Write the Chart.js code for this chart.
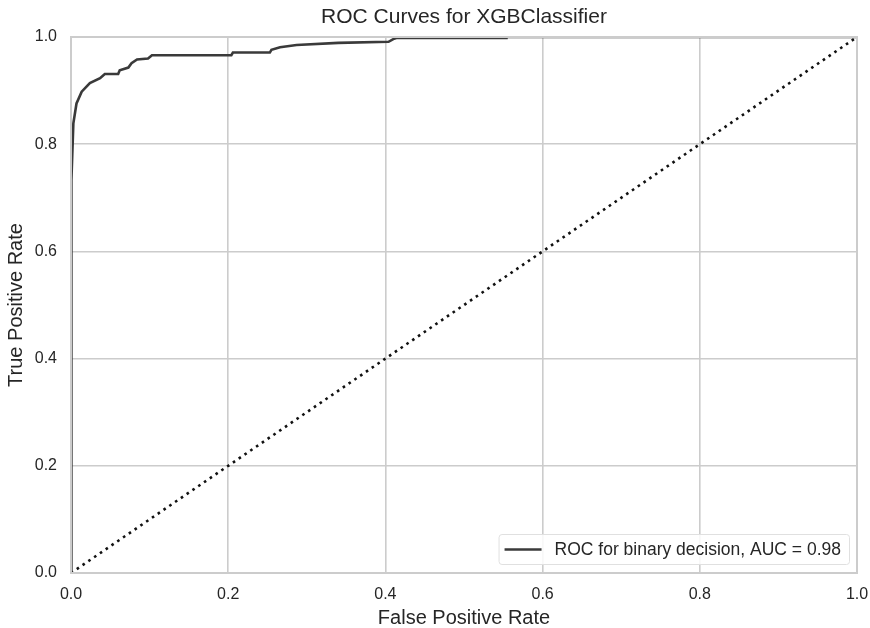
<!DOCTYPE html>
<html>
<head>
<meta charset="utf-8">
<script src="https://cdn.jsdelivr.net/npm/chart.js@4"></script>
<style>
  html, body { margin: 0; padding: 0; background: #fff; }
  #wrap { width: 870px; height: 628px; }
</style>
</head>
<body>
<div id="wrap"><canvas id="roc" width="870" height="628"></canvas></div>
<script>
// --- datos ---
const fpr = [0, 0, 0.001, 0.003, 0.007, 0.0136, 0.024, 0.037, 0.043, 0.060, 0.062, 0.073, 0.077, 0.084, 0.098, 0.103,
  0.204, 0.206, 0.253, 0.255, 0.266, 0.287, 0.340, 0.404, 0.410, 0.414, 0.554, 0.554, 1.0];
const tpr = [0, 0.70, 0.733, 0.839, 0.876, 0.898, 0.914, 0.923, 0.931, 0.931, 0.938, 0.943, 0.951, 0.958, 0.960, 0.966,
  0.966, 0.971, 0.971, 0.976, 0.981, 0.985, 0.989, 0.991, 0.996, 0.998, 0.998, 1.0, 1.0];
const diagX = [0, 1];
const diagY = [0, 1];
const tickValues = [0, 0.2, 0.4, 0.6, 0.8, 1.0];

const titleText = 'ROC Curves for XGBClassifier';
const xLabel = 'False Positive Rate';
const yLabel = 'True Positive Rate';
const curveLabel = 'ROC for binary decision, AUC = 0.98';

const FONT = "'Liberation Sans', Arial, sans-serif";
const TXT = '#262626';
const GRID = '#cccccc';

// título centrado sobre el área de trazado (no sobre el lienzo)
const titlePlugin = {
  id: 'axTitle',
  afterDraw(chart) {
    const { ctx, chartArea: a } = chart;
    ctx.save();
    ctx.font = '21px ' + FONT;
    ctx.fillStyle = TXT;
    ctx.textAlign = 'center';
    ctx.textBaseline = 'middle';
    ctx.fillText(titleText, (a.left + a.right) / 2, 17);
    ctx.restore();
  }
};

// marco del área de trazado encima de las series (como los spines de matplotlib)
const framePlugin = {
  id: 'frame',
  afterDatasetsDraw(chart) {
    const { ctx, chartArea: a } = chart;
    ctx.save();
    ctx.strokeStyle = GRID;
    ctx.lineWidth = 2;
    ctx.strokeRect(a.left, a.top, a.right - a.left, a.bottom - a.top);
    ctx.restore();
  }
};

// leyenda dentro del área, abajo a la derecha
const legendBox = {
  id: 'legendBox',
  afterDraw(chart) {
    const { ctx, chartArea: a } = chart;
    const ds = chart.data.datasets[0];
    ctx.save();
    ctx.font = '17.5px ' + FONT;
    const tw = ctx.measureText(ds.label).width;
    const h = 30, w = 56 + tw + 8;
    const x = a.right - 8 - w, y = a.bottom - 9 - h;
    ctx.fillStyle = 'rgba(255,255,255,0.85)';
    ctx.strokeStyle = '#e0e0e0';
    ctx.lineWidth = 1;
    ctx.beginPath();
    ctx.roundRect(x + 0.5, y + 0.5, w, h, 3);
    ctx.fill(); ctx.stroke();
    const cy = y + h / 2 + 0.5;
    ctx.strokeStyle = ds.borderColor;
    ctx.lineWidth = ds.borderWidth;
    ctx.beginPath();
    ctx.moveTo(x + 6, cy); ctx.lineTo(x + 43, cy);
    ctx.stroke();
    ctx.fillStyle = TXT;
    ctx.textBaseline = 'middle';
    ctx.fillText(ds.label, x + 56, cy + 1);
    ctx.restore();
  }
};

const axisCommon = {
  type: 'linear',
  min: 0, max: 1,
  grid: { color: GRID, lineWidth: 1.6, drawTicks: false },
  border: { display: false },
  afterBuildTicks: s => { s.ticks = tickValues.map(v => ({ value: v })); },
};

new Chart(document.getElementById('roc'), {
  type: 'scatter',
  data: {
    datasets: [
      {
        label: curveLabel,
        data: fpr.map((x, i) => ({ x: x, y: tpr[i] })),
        showLine: true, borderColor: '#3a3a3a', borderWidth: 2.6,
        pointRadius: 0, clip: 0, order: 1
      },
      {
        label: 'diagonal',
        data: diagX.map((x, i) => ({ x: x, y: diagY[i] })),
        showLine: true, borderColor: '#111111', borderWidth: 2.6,
        borderDash: [2.6, 4.4], pointRadius: 0, clip: 0, order: 2
      }
    ]
  },
  options: {
    responsive: false,
    animation: false,
    layout: { padding: { top: 37, right: 13, bottom: 0, left: 0 } },
    plugins: {
      legend: { display: false },
      tooltip: { enabled: false },
      title: { display: false }
    },
    scales: {
      x: {
        ...axisCommon,
        position: 'bottom',
        ticks: { color: TXT, font: { family: FONT, size: 16 }, padding: 12, maxRotation: 0,
          callback: v => Number(v).toFixed(1) },
        title: { display: true, text: xLabel, color: TXT,
          font: { family: FONT, size: 20, lineHeight: 1 }, padding: { top: 0, bottom: 0 } },
        afterFit: s => { s.height = 55; s.paddingLeft = 0; s.paddingRight = 0; }
      },
      y: {
        ...axisCommon,
        position: 'left',
        ticks: { color: TXT, font: { family: FONT, size: 16 }, padding: 14,
          callback: v => Number(v).toFixed(1) },
        title: { display: true, text: yLabel, color: TXT,
          font: { family: FONT, size: 20, lineHeight: 1 }, padding: { top: 6, bottom: 0 } },
        afterFit: s => { s.width = 71; s.paddingTop = 0; s.paddingBottom = 0; }
      }
    }
  },
  plugins: [framePlugin, legendBox, titlePlugin]
});
</script>
</body>
</html>
